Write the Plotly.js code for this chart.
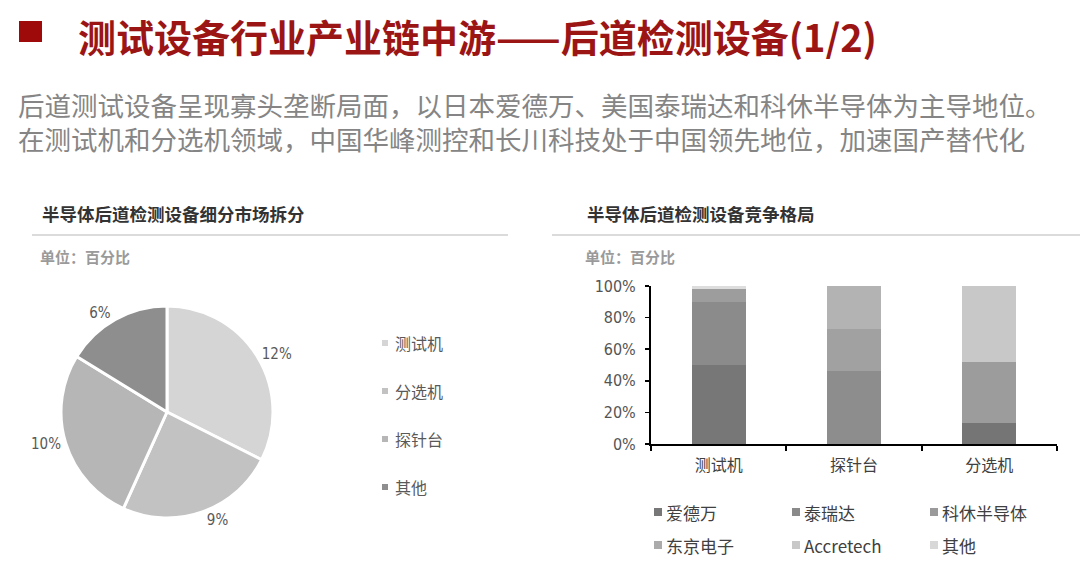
<!DOCTYPE html>
<html><head><meta charset="utf-8">
<script src="https://cdn.plot.ly/plotly-3.0.1.min.js"></script>
<style>html,body{margin:0;padding:0;background:#fff}#chart{width:1080px;height:583px}</style>
</head><body><div id="chart"></div>
<script>
// ---- data ----
const pieLabels = ['测试机', '分选机', '探针台', '其他'];
const pieValues = [12, 9, 10, 6];

const barCategories = ['测试机', '探针台', '分选机'];
const seriesNames = ['爱德万', '泰瑞达', '科休半导体', '东京电子', 'Accretech', '其他'];
const advantest = [50, 0, 13];
const teradyne = [40, 0, 0];
const cohu = [8, 0, 39];
const tokyoElectron = [0, 46, 0];
const accretech = [0, 27, 0];
const others = [2, 27, 48];
const yTickVals = [0, 20, 40, 60, 80, 100];
const yTickText = ['0%', '20%', '40%', '60%', '80%', '100%'];

// ---- styles ----
const W = 1080, H = 583;
const px = x => x / W;
const py = y => 1 - y / H;
const CJK = 'Noto Sans CJK SC, sans-serif';
const NARROW = 'Liberation Sans Narrow, DejaVu Sans Condensed, Noto Sans CJK SC, sans-serif';

const pieColors = ['#d5d5d5', '#c2c2c2', '#b6b6b6', '#8e8e8e'];
const seriesValues = [advantest, teradyne, cohu, tokyoElectron, accretech, others];
const seriesBarColors = [
  ['#777777', '#777777', '#757575'],
  ['#8b8b8b', '#8b8b8b', '#8b8b8b'],
  ['#9d9d9d', '#9d9d9d', '#9c9c9c'],
  ['#8d8d8d', '#8d8d8d', '#8d8d8d'],
  ['#a1a1a1', '#a1a1a1', '#a1a1a1'],
  ['#dddddd', '#b3b3b3', '#c8c8c8']
];
const legendColors = ['#777777', '#8a8a8a', '#9a9a9a', '#ababab', '#c8c8c8', '#d8d8d8'];

const traces = [];
traces.push({
  type: 'pie',
  labels: pieLabels,
  values: pieValues,
  sort: false,
  direction: 'clockwise',
  rotation: 0,
  marker: {colors: pieColors, line: {color: '#ffffff', width: 3}},
  texttemplate: '%{value}%',
  textposition: 'outside',
  textfont: {family: NARROW, size: 15, color: '#595959'},
  domain: {x: [px(61), px(273)], y: [py(518), py(306)]},
  showlegend: false,
  hoverinfo: 'label+value'
});

seriesNames.forEach((name, i) => {
  traces.push({
    type: 'bar',
    name: name,
    x: barCategories,
    y: seriesValues[i],
    marker: {color: seriesBarColors[i], line: {width: 0}},
    xaxis: 'x', yaxis: 'y',
    showlegend: false
  });
});

const shapes = [];
const annotations = [];

// title block
shapes.push({type: 'rect', xref: 'paper', yref: 'paper', x0: px(19), x1: px(42), y0: py(42), y1: py(21),
  fillcolor: '#9e0a0a', line: {width: 0}});
annotations.push({xref: 'paper', yref: 'paper', x: px(76), y: py(35), xanchor: 'left', yanchor: 'middle',
  text: '<b>测试设备行业产业链中游——后道检测设备(1/2)</b>', showarrow: false,
  font: {family: CJK, size: 38, color: '#9b1515'}});
annotations.push({xref: 'paper', yref: 'paper', x: px(16), y: py(121.5), xanchor: 'left', yanchor: 'middle',
  align: 'left',
  text: '后道测试设备呈现寡头垄断局面，以日本爱德万、美国泰瑞达和科休半导体为主导地位。<br>' +
        '在测试机和分选机领域，中国华峰测控和长川科技处于中国领先地位，加速国产替代化',
  showarrow: false,
  font: {family: CJK, size: 26.5, color: '#858585'}});

// section headers
[[40, 32, 508, '半导体后道检测设备细分市场拆分'], [585, 552, 1080, '半导体后道检测设备竞争格局']].forEach(h => {
  annotations.push({xref: 'paper', yref: 'paper', x: px(h[0]), y: py(213), xanchor: 'left', yanchor: 'middle',
    text: '<b>' + h[3] + '</b>', showarrow: false, font: {family: CJK, size: 17.5, color: '#333333'}});
  shapes.push({type: 'line', xref: 'paper', yref: 'paper', x0: px(h[1]), x1: px(h[2]), y0: py(235), y1: py(235),
    line: {color: '#cfcfcf', width: 1.5}});
  annotations.push({xref: 'paper', yref: 'paper', x: px(h[0] - 2), y: py(256), xanchor: 'left', yanchor: 'middle',
    text: '<b>单位：百分比</b>', showarrow: false, font: {family: CJK, size: 15, color: '#9a9a9a'}});
});

// pie legend
pieLabels.forEach((lab, i) => {
  const yc = 343 + i * 48;
  shapes.push({type: 'rect', xref: 'paper', yref: 'paper', x0: px(382), x1: px(388), y0: py(yc + 3), y1: py(yc - 3),
    fillcolor: pieColors[i], line: {width: 0}});
  annotations.push({xref: 'paper', yref: 'paper', x: px(393), y: py(yc), xanchor: 'left', yanchor: 'middle',
    text: lab, showarrow: false, font: {family: CJK, size: 16, color: '#595959'}});
});

// bar legend
seriesNames.forEach((name, i) => {
  const col = i % 3, row = Math.floor(i / 3);
  const x0 = 654 + col * 138, yc = 512 + row * 33;
  shapes.push({type: 'rect', xref: 'paper', yref: 'paper', x0: px(x0), x1: px(x0 + 8), y0: py(yc + 4), y1: py(yc - 4),
    fillcolor: legendColors[i], line: {width: 0}});
  annotations.push({xref: 'paper', yref: 'paper', x: px(x0 + 10), y: py(yc), xanchor: 'left', yanchor: 'middle',
    text: name, showarrow: false, font: {family: CJK, size: 17, color: '#404040'}});
});

const layout = {
  width: W, height: H,
  margin: {l: 0, r: 0, t: 0, b: 0},
  paper_bgcolor: '#ffffff', plot_bgcolor: '#ffffff',
  showlegend: false,
  barmode: 'stack',
  bargap: 0.6,
  xaxis: {
    domain: [px(651), px(1057)],
    anchor: 'y',
    type: 'category',
    showline: true, linecolor: '#000000', linewidth: 2,
    ticks: 'outside', tickson: 'boundaries', ticklen: 5, tickwidth: 2, tickcolor: '#000000',
    showgrid: false, zeroline: false,
    ticklabelstandoff: 6,
    tickfont: {family: CJK, size: 16, color: '#404040'},
    fixedrange: true
  },
  yaxis: {
    domain: [py(444), py(286)],
    anchor: 'x',
    range: [0, 100],
    tickvals: yTickVals, ticktext: yTickText,
    showline: true, linecolor: '#000000', linewidth: 2,
    ticks: 'outside', ticklen: 4, tickwidth: 1.5, tickcolor: '#000000',
    showgrid: false, zeroline: false,
    ticklabelstandoff: 6,
    tickfont: {family: NARROW, size: 16, color: '#555555'},
    fixedrange: true
  },
  shapes: shapes,
  annotations: annotations,
  font: {family: CJK}
};

Plotly.newPlot('chart', traces, layout, {displayModeBar: false, staticPlot: true});
</script>
</body></html>
